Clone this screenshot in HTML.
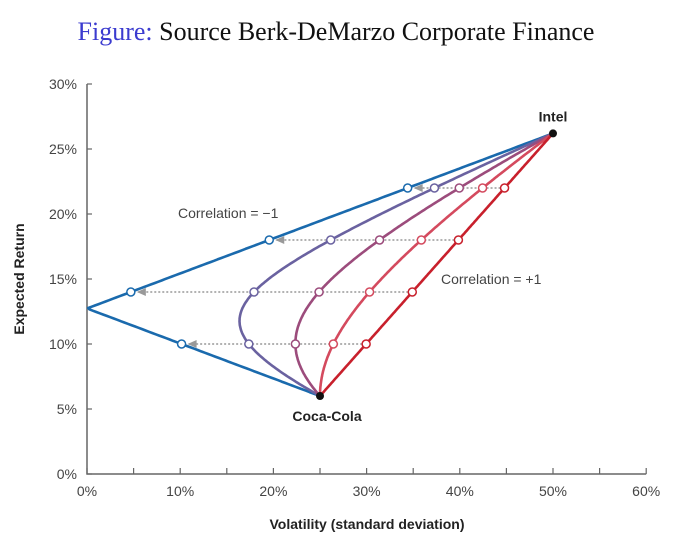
<!DOCTYPE html>
<html><head><meta charset="utf-8"><style>
body{margin:0;background:#fff;width:673px;height:540px;overflow:hidden}
svg{display:block}
</style></head><body>
<svg id="chart" width="673" height="540" viewBox="0 0 673 540" xmlns="http://www.w3.org/2000/svg">
<text x="336" y="40" text-anchor="middle" font-family="Liberation Serif, serif" font-size="26"><tspan fill="#3b3bcf">Figure:</tspan> <tspan fill="#111">Source Berk-DeMarzo Corporate Finance</tspan></text>
<g id="axes" font-family="Liberation Sans, sans-serif" fill="#444"></g>
<g id="marks"></g>
</svg>
<script>
const xTicks=[0,10,20,30,40,50,60];
const yTicks=[0,5,10,15,20,25,30];
const assetNames=['Intel','Coca-Cola'];
const assetVol=[50,25];
const assetRet=[26.2,6];
const correlations=[-1,-0.5,0,0.5,1];
const curveColors=['#1a6aad','#6a62a0','#9c4c7c','#d44a5e','#c8202c'];
const markerReturns=[10,14,18,22];

const NS='http://www.w3.org/2000/svg';
const X=v=>87+v*9.32, Y=v=>474-v*13;
const axes=document.getElementById('axes'), marks=document.getElementById('marks');
function mk(tag,attrs,parent){const e=document.createElementNS(NS,tag);for(const k in attrs)e.setAttribute(k,attrs[k]);parent.appendChild(e);return e;}

let e=mk('path',{d:`M${X(0)} ${Y(30)} V${Y(0)} H${X(60)}`,stroke:'#666','stroke-width':1.5,fill:'none'},axes);


for(let v=0;v<=60;v+=5){e=mk('line',{x1:X(v),x2:X(v),y1:Y(0),y2:Y(0)-6,stroke:'#666','stroke-width':1.2},axes);

}
for(let v=0;v<=30;v+=5){e=mk('line',{x1:X(0),x2:X(0)+5,y1:Y(v),y2:Y(v),stroke:'#666','stroke-width':1.2},axes);

}
xTicks.forEach(v=>{e=mk('text',{x:X(v),y:496,'text-anchor':'middle','font-size':14},axes);e.textContent=v+'%';

});
yTicks.forEach(v=>{e=mk('text',{x:77,y:Y(v)+5,'text-anchor':'end','font-size':14},axes);e.textContent=v+'%';

});
e=mk('text',{x:367,y:529,'text-anchor':'middle','font-size':14,'font-weight':'bold',fill:'#222'},axes);e.textContent='Volatility (standard deviation)';


e=mk('text',{x:24,y:279,'text-anchor':'middle','font-size':14,'font-weight':'bold',fill:'#222',transform:'rotate(-90 24 279)'},axes);e.textContent='Expected Return';



function port(w,rho){const s1=assetVol[0],s2=assetVol[1];
 const v=w*w*s1*s1+(1-w)*(1-w)*s2*s2+2*w*(1-w)*rho*s1*s2;
 return [Math.sqrt(Math.max(v,0)),w*assetRet[0]+(1-w)*assetRet[1]];}

markerReturns.forEach(r=>{const w=(r-assetRet[1])/(assetRet[0]-assetRet[1]);
 const a=port(w,correlations[correlations.length-1]),b=port(w,correlations[0]);
 e=mk('line',{x1:X(a[0]),x2:X(b[0])+7,y1:Y(r),y2:Y(r),stroke:'#999','stroke-width':1.6,'stroke-dasharray':'2 2'},marks);
 
 
 e=mk('path',{d:`M${X(b[0])+6} ${Y(r)} l9 -4 v8 z`,fill:'#999'},marks);
 
 
});
correlations.forEach((rho,i)=>{let d='';
 for(let k=0;k<=200;k++){const p=port(k/200,rho);d+=(k?'L':'M')+X(p[0]).toFixed(1)+' '+Y(p[1]).toFixed(1);}
 e=mk('path',{d,stroke:curveColors[i],'stroke-width':2.6,fill:'none','stroke-linejoin':'round'},marks);
 
 
});
correlations.forEach((rho,i)=>markerReturns.forEach(r=>{const w=(r-assetRet[1])/(assetRet[0]-assetRet[1]);const p=port(w,rho);
 e=mk('circle',{cx:X(p[0]),cy:Y(r),r:4,fill:'#fff',stroke:curveColors[i],'stroke-width':1.5},marks);
 
 }));
assetNames.forEach((n,i)=>{e=mk('circle',{cx:X(assetVol[i]),cy:Y(assetRet[i]),r:4,fill:'#111'},marks);
 
 
 e=mk('text',{x:X(assetVol[i])+(i?7:0),y:Y(assetRet[i])+(i?25:-12),'text-anchor':'middle','font-family':'Liberation Sans, sans-serif','font-size':14,'font-weight':'bold',fill:'#222'},marks);e.textContent=n;
 
 });
e=mk('text',{x:178,y:218,'font-family':'Liberation Sans, sans-serif','font-size':14,fill:'#444'},marks);e.textContent='Correlation = \u22121';


e=mk('text',{x:441,y:284,'font-family':'Liberation Sans, sans-serif','font-size':14,fill:'#444'},marks);e.textContent='Correlation = +1';


</script>
</body></html>
